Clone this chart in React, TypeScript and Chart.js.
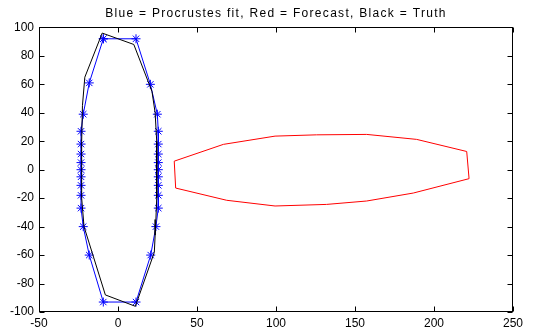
import React, { useEffect, useRef } from 'react';
import { Chart, registerables } from 'chart.js';

Chart.register(...registerables);

const TITLE = 'Blue = Procrustes fit, Red = Forecast, Black = Truth';
const X_TICKS = [-50, 0, 50, 100, 150, 200, 250];
const Y_TICKS = [-100, -80, -60, -40, -20, 0, 20, 40, 60, 80, 100];

// Blue: Procrustes fit (closed outline with star markers)
const fitX = [-9.3, 11.4, 20.5, 24.9, 25.5, 25.5, 25.5, 25.5, 25.5, 25.5, 25.5, 25.5, 25.5, 24.0, 20.7, 11.4, -9.3, -18.2, -22.0, -23.4, -23.4, -23.4, -23.4, -23.4, -23.4, -23.4, -23.4, -23.4, -22.0, -18.2, -9.3];
const fitY = [92, 92, 60, 39, 27, 18, 11, 5, 0, -5, -11, -18, -27, -40, -60, -93, -93, -60, -40, -27, -18, -11, -5, 0, 5, 11, 18, 27, 39, 61, 92];

// Red: Forecast
const forecastX = [35.6, 66.7, 99.4, 125.7, 157.4, 189, 220.7, 222.2, 186.9, 157.4, 132, 99.4, 68.8, 36.5, 35.6];
const forecastY = [6, 17.8, 23.6, 24.5, 24.8, 21.3, 12.8, -6.3, -16.4, -22, -24.4, -25.5, -21.5, -12.9, 6];

// Black: Truth
const truthX = [-10, 10, 21.5, 23.5, 24.5, 24.5, 24.5, 24, 23.5, 23, 11, -8, -21.5, -23, -23, -23, -22.5, -21, -10];
const truthY = [96, 88, 55, 40, 20, 0, -20, -35, -46, -58, -96, -88, -40, -20, 0, 20, 45, 65, 96];

const pts = (xs: number[], ys: number[]) => xs.map((x, i) => ({ x, y: ys[i] }));

const spacedTitlePlugin = {
  id: 'spacedTitle',
  beforeDraw(chart: any) {
    const tb = chart.titleBlock;
    if (tb && !tb.__spaced) {
      const orig = tb.draw.bind(tb);
      tb.draw = (...args: any[]) => {
        const ctx = chart.ctx;
        const a = chart.chartArea;
        const dx = (a.left + a.right) / 2 - (tb.left + tb.right) / 2;
        ctx.save();
        ctx.translate(dx, 0);
        try {
          (ctx as any).letterSpacing = '1.3px';
        } catch (e) {}
        orig(...args);
        ctx.restore();
      };
      tb.__spaced = true;
    }
  },
};

const boxPlugin = {
  id: 'matlabBox',
  beforeDatasetsDraw(chart: any) {
    const { ctx, chartArea: a, scales } = chart;
    const L = Math.round(a.left) + 0.5;
    const R = Math.round(a.right) - 0.5;
    const T = Math.round(a.top) + 0.5;
    const B = Math.round(a.bottom) - 0.5;
    ctx.save();
    ctx.strokeStyle = '#000';
    ctx.lineWidth = 1;
    ctx.beginPath();
    for (const v of X_TICKS) {
      const px = Math.round(scales.x.getPixelForValue(v)) + 0.5;
      ctx.moveTo(px, B);
      ctx.lineTo(px, B - 5);
      ctx.moveTo(px, T);
      ctx.lineTo(px, T + 5);
    }
    for (const v of Y_TICKS) {
      const py = Math.round(scales.y.getPixelForValue(v)) + 0.5;
      ctx.moveTo(L, py);
      ctx.lineTo(L + 5, py);
      ctx.moveTo(R, py);
      ctx.lineTo(R - 5, py);
    }
    ctx.stroke();
    ctx.strokeRect(L, T, R - L, B - T);
    ctx.restore();
  },
};

export default function App() {
  const ref = useRef<HTMLCanvasElement>(null);
  useEffect(() => {
    if (!ref.current) return;
    Chart.defaults.font.family = '"Liberation Sans", Arial, sans-serif';
    const chart = new Chart(ref.current, {
      type: 'scatter',
      data: {
        datasets: [
          {
            label: 'Truth',
            data: pts(truthX, truthY),
            showLine: true,
            borderColor: '#000000',
            borderWidth: 1,
            pointRadius: 0,
            tension: 0,
            order: 0,
          },
          {
            label: 'Procrustes fit',
            data: pts(fitX, fitY),
            showLine: true,
            borderColor: '#0000ff',
            backgroundColor: '#0000ff',
            borderWidth: 1,
            pointStyle: 'star',
            pointRadius: 4.5,
            pointBorderWidth: 1,
            pointBorderColor: '#0000ff',
            tension: 0,
            order: 1,
          },
          {
            label: 'Forecast',
            data: pts(forecastX, forecastY),
            showLine: true,
            borderColor: '#ff0000',
            borderWidth: 1,
            pointRadius: 0,
            tension: 0,
            order: 2,
          },
        ],
      },
      options: {
        animation: false,
        responsive: false,
        devicePixelRatio: 1,
        layout: { padding: { left: 0, right: 21, top: 0, bottom: 0 } },
        plugins: {
          legend: { display: false },
          tooltip: { enabled: false },
          title: {
            display: true,
            text: TITLE,
            color: '#000',
            font: { size: 12, weight: 'normal' },
            padding: { top: 6, bottom: 7 },
          },
        },
        scales: {
          x: {
            type: 'linear',
            min: -50,
            max: 250,
            afterBuildTicks: (s: any) => {
              s.ticks = X_TICKS.map((v) => ({ value: v }));
            },
            grid: { display: false, drawTicks: false },
            border: { display: false },
            ticks: { color: '#000', padding: 4, maxRotation: 0, font: { size: 12 } },
            afterFit: (s: any) => {
              s.height = 20;
            },
          },
          y: {
            type: 'linear',
            min: -100,
            max: 100,
            afterBuildTicks: (s: any) => {
              s.ticks = Y_TICKS.map((v) => ({ value: v }));
            },
            grid: { display: false, drawTicks: false },
            border: { display: false },
            ticks: { color: '#000', padding: 5, font: { size: 12 } },
            afterFit: (s: any) => {
              s.width = 39;
            },
          },
        },
      },
      plugins: [spacedTitlePlugin, boxPlugin],
    } as any);
    return () => chart.destroy();
  }, []);
  return (
    <div style={{ position: 'fixed', left: 0, top: 0, width: 534, height: 332, background: '#fff' }}>
      <canvas ref={ref} width={534} height={332} />
    </div>
  );
}
